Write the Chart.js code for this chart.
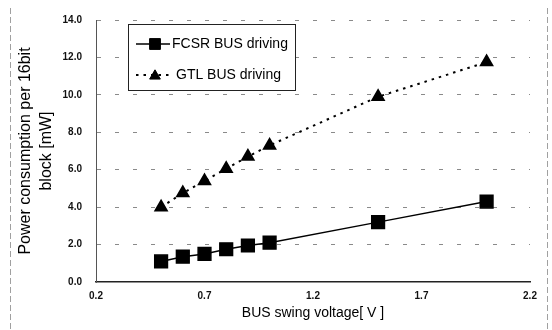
<!DOCTYPE html>
<html>
<head>
<meta charset="utf-8">
<script src="https://cdn.jsdelivr.net/npm/chart.js@4"></script>
<style>
  html, body { margin: 0; padding: 0; background: #fff; }
  #wrap { position: relative; width: 552px; height: 330px; }
  canvas { display: block; }
</style>
</head>
<body>
<div id="wrap"><canvas id="c" width="552" height="330"></canvas></div>
<script>
// ---- data ----
const voltages = [0.5, 0.6, 0.7, 0.8, 0.9, 1.0, 1.5, 2.0];
const fcsrValues = [1.1, 1.35, 1.5, 1.75, 1.95, 2.1, 3.2, 4.3];
const gtlValues = [4.0, 4.75, 5.4, 6.05, 6.7, 7.3, 9.9, 11.75];
const xTickValues = [0.2, 0.7, 1.2, 1.7, 2.2];
const yTickValues = [0, 2, 4, 6, 8, 10, 12, 14];
const seriesNames = ['FCSR BUS driving', 'GTL BUS driving'];
const xTitle = 'BUS swing voltage[ V ]';
const yTitle = ['Power consumption per 16bit', 'block [mW]'];

const toPts = (xs, ys) => xs.map((x, i) => ({ x: x, y: ys[i] }));

const frameAndLegend = {
  id: 'frameAndLegend',
  beforeDraw(chart) {
    const ctx = chart.ctx;
    ctx.save();
    ctx.strokeStyle = '#a0a0a0';
    ctx.lineWidth = 1;
    ctx.setLineDash([6, 3]);
    ctx.beginPath();
    ctx.moveTo(10.5, 8); ctx.lineTo(10.5, 330);
    ctx.moveTo(547.5, 8); ctx.lineTo(547.5, 330);
    ctx.stroke();
    ctx.restore();
  },
  afterDraw(chart) {
    const ctx = chart.ctx;
    const ds = chart.data.datasets;
    ctx.save();
    // legend box
    ctx.fillStyle = '#fff';
    ctx.fillRect(128, 24, 167, 66);
    ctx.strokeStyle = '#222';
    ctx.lineWidth = 1;
    ctx.setLineDash([]);
    ctx.strokeRect(128.5, 24.5, 167, 66);
    const rows = [44, 75];
    ds.forEach((d, i) => {
      const y = rows[i];
      ctx.save();
      ctx.strokeStyle = d.borderColor;
      ctx.lineWidth = d.borderWidth;
      ctx.setLineDash(d.borderDash || []);
      ctx.beginPath();
      ctx.moveTo(136, y); ctx.lineTo(170, y);
      ctx.stroke();
      ctx.restore();
      ctx.save();
      ctx.fillStyle = d.pointBackgroundColor;
      ctx.strokeStyle = d.pointBorderColor;
      ctx.lineWidth = 1;
      ctx.setLineDash([]);
      Chart.helpers.drawPoint(ctx, {
        pointStyle: d.pointStyle, radius: d.pointRadius * (i === 0 ? 0.85 : 0.95),
        borderWidth: 1, rotation: 0
      }, 155, y + (i === 1 ? 1 : 0));
      ctx.restore();
      ctx.fillStyle = '#000';
      ctx.font = '14px Arial, "Liberation Sans", sans-serif';
      ctx.textBaseline = 'middle';
      ctx.textAlign = 'left';
      ctx.fillText(d.label, i === 0 ? 172 : 176, y);
    });
    ctx.restore();
  }
};

new Chart(document.getElementById('c'), {
  type: 'line',
  data: {
    datasets: [
      {
        label: seriesNames[0],
        data: toPts(voltages, fcsrValues),
        borderColor: '#000',
        backgroundColor: '#000',
        borderWidth: 1.5,
        pointStyle: 'rect',
        pointRadius: 9,
        pointBackgroundColor: '#000',
        pointBorderColor: '#000',
        tension: 0
      },
      {
        label: seriesNames[1],
        data: toPts(voltages, gtlValues),
        borderColor: '#000',
        backgroundColor: '#000',
        borderWidth: 2,
        borderDash: [2.5, 5],
        pointStyle: 'triangle',
        pointRadius: 6.5,
        pointBackgroundColor: '#000',
        pointBorderColor: '#000',
        tension: 0
      }
    ]
  },
  options: {
    responsive: false,
    animation: false,
    layout: { padding: { left: 0, right: 22, top: 17, bottom: 8 } },
    plugins: { legend: { display: false }, tooltip: { enabled: false } },
    scales: {
      x: {
        type: 'linear',
        min: xTickValues[0],
        max: xTickValues[xTickValues.length - 1],
        afterBuildTicks: (s) => { s.ticks = xTickValues.map(v => ({ value: v })); },
        afterFit: (s) => { s.height = 40; },
        grid: { display: false, drawTicks: false },
        border: { display: true, color: '#222', width: 1.5 },
        ticks: {
          padding: 8,
          color: '#111',
          font: { family: 'Arial, "Liberation Sans", sans-serif', size: 10, weight: 'bold' },
          callback: (v) => Number(v).toFixed(1)
        },
        title: {
          display: true,
          text: xTitle,
          color: '#000',
          padding: { top: 3, bottom: 0 },
          font: { family: 'Arial, "Liberation Sans", sans-serif', size: 14 }
        }
      },
      y: {
        min: yTickValues[0],
        max: yTickValues[yTickValues.length - 1],
        afterBuildTicks: (s) => { s.ticks = yTickValues.map(v => ({ value: v })); },
        afterFit: (s) => { s.width = 96; },
        grid: {
          color: (c) => (c.tick && c.tick.value === 0) ? 'rgba(0,0,0,0)' : '#8a8a8a',
          lineWidth: 1,
          drawTicks: false
        },
        border: { display: true, color: '#555', width: 1, dash: [4, 14] },
        ticks: {
          padding: 14,
          color: '#111',
          font: { family: 'Arial, "Liberation Sans", sans-serif', size: 10, weight: 'bold' },
          callback: (v) => Number(v).toFixed(1)
        },
        title: {
          display: true,
          text: yTitle,
          color: '#000',
          padding: { top: 15, bottom: 0 },
          font: { family: 'Arial, "Liberation Sans", sans-serif', size: 16, lineHeight: 1.3 }
        }
      }
    }
  },
  plugins: [frameAndLegend]
});
</script>
</body>
</html>
